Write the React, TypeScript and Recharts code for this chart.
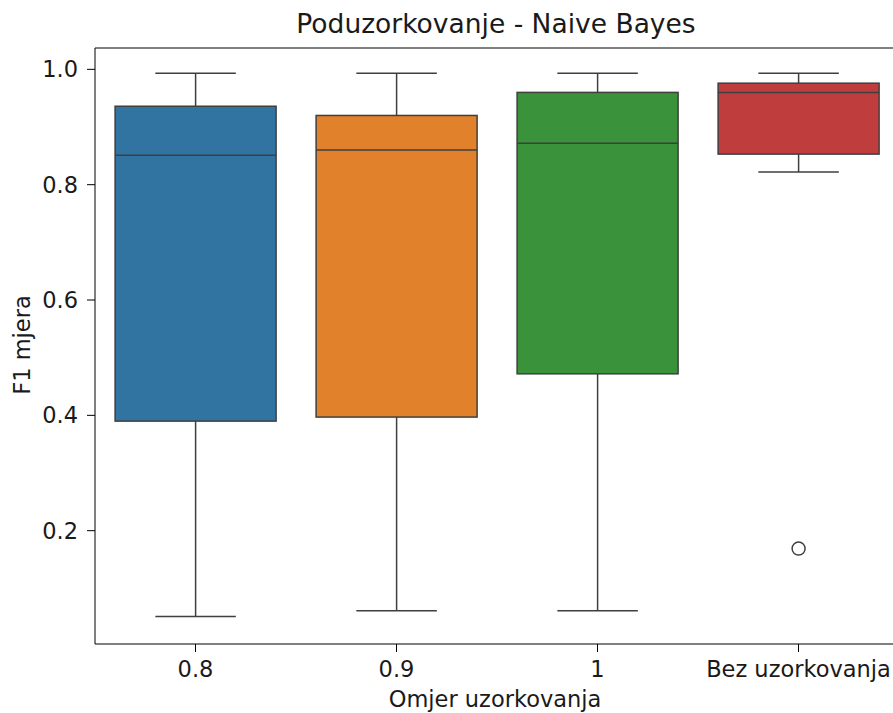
import { Bar, ComposedChart, ReferenceLine, XAxis, YAxis } from "recharts";

const categories = ["0.8", "0.9", "1", "Bez uzorkovanja"];
const whiskerLow = [0.051, 0.061, 0.061, 0.822];
const q1 = [0.39, 0.397, 0.472, 0.853];
const median = [0.851, 0.86, 0.872, 0.96];
const q3 = [0.936, 0.92, 0.96, 0.976];
const whiskerHigh = [0.993, 0.993, 0.993, 0.993];
const outliers: number[][] = [[], [], [], [0.169]];
const colors = ["#3274a1", "#e1812c", "#3a923a", "#c03d3e"];

const yTicks = [0.2, 0.4, 0.6, 0.8, 1.0];
const Y_MIN = 0.0035;
const Y_MAX = 1.037;

const rows = categories.map((name, i) => ({
  name,
  min: whiskerLow[i],
  q1: q1[i],
  median: median[i],
  q3: q3[i],
  max: whiskerHigh[i],
  outliers: outliers[i],
  color: colors[i],
}));

const LINE = "#3f3f3f";
const TEXT = "#1a1a1a";
const FONT = "DejaVu Sans, sans-serif";

function BoxShape(props: any) {
  const { x, y, width, height, payload } = props;
  const top = Math.min(y, y + height);
  const bottom = Math.max(y, y + height);
  const span = payload.max - payload.min;
  const py = (v: number) => bottom - ((v - payload.min) / span) * (bottom - top);
  const cx = x + width / 2;
  const capHalf = width / 4;
  return (
    <g>
      <line x1={cx} x2={cx} y1={py(payload.max)} y2={py(payload.q3)} stroke={LINE} strokeWidth={1.5} />
      <line x1={cx} x2={cx} y1={py(payload.q1)} y2={py(payload.min)} stroke={LINE} strokeWidth={1.5} />
      <line x1={cx - capHalf} x2={cx + capHalf} y1={py(payload.max)} y2={py(payload.max)} stroke={LINE} strokeWidth={1.5} />
      <line x1={cx - capHalf} x2={cx + capHalf} y1={py(payload.min)} y2={py(payload.min)} stroke={LINE} strokeWidth={1.5} />
      <rect
        x={x}
        y={py(payload.q3)}
        width={width}
        height={py(payload.q1) - py(payload.q3)}
        fill={payload.color}
        stroke={LINE}
        strokeWidth={1.5}
      />
      <line x1={x} x2={x + width} y1={py(payload.median)} y2={py(payload.median)} stroke={LINE} strokeWidth={1.5} />
      {payload.outliers.map((o: number, k: number) => (
        <circle key={k} cx={cx} cy={py(o)} r={6.5} fill="#fff" stroke={LINE} strokeWidth={1.5} />
      ))}
    </g>
  );
}

export default function App() {
  return (
    <div
      style={{
        position: "fixed",
        left: 0,
        top: 0,
        width: 893,
        height: 713,
        overflow: "hidden",
        background: "#fff",
        fontFamily: FONT,
      }}
    >
      <ComposedChart
        width={905}
        height={713}
        data={rows}
        margin={{ top: 48, right: 6, bottom: 0, left: 0 }}
        barCategoryGap="10%"
      >
        <text x={496} y={33} textAnchor="middle" fontSize={26.5} fontFamily={FONT} fill={TEXT}>
          Poduzorkovanje - Naive Bayes
        </text>
        <text x={495} y={707} textAnchor="middle" fontSize={22.5} fontFamily={FONT} fill={TEXT}>
          Omjer uzorkovanja
        </text>
        <text
          x={30}
          y={345}
          textAnchor="middle"
          fontSize={22.5}
          fontFamily={FONT}
          fill={TEXT}
          transform="rotate(-90 30 345)"
        >
          F1 mjera
        </text>
        <XAxis
          dataKey="name"
          height={69}
          stroke="#000"
          tickSize={8}
          tickMargin={9}
          tick={{ fill: TEXT, fontSize: 22.5, fontFamily: FONT }}
        />
        <YAxis
          type="number"
          domain={[Y_MIN, Y_MAX]}
          ticks={yTicks}
          width={95}
          stroke="#000"
          tickSize={8}
          tickMargin={9}
          tickFormatter={(v: number) => v.toFixed(1)}
          tick={{ fill: TEXT, fontSize: 22.5, fontFamily: FONT }}
          allowDataOverflow
        />
        <ReferenceLine y={Y_MAX} stroke="#000" ifOverflow="visible" />
        <Bar
          dataKey={(d: any) => [d.min, d.max]}
          shape={BoxShape}
          isAnimationActive={false}
        />
      </ComposedChart>
    </div>
  );
}
